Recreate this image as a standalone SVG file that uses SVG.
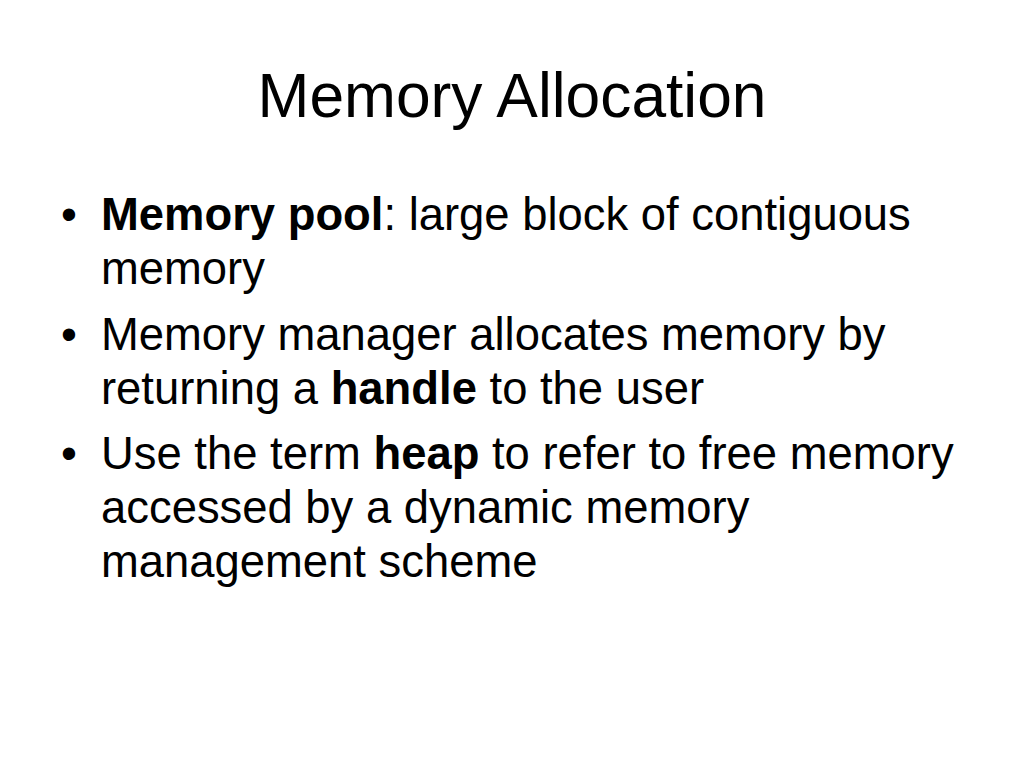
<svg xmlns="http://www.w3.org/2000/svg" width="1024" height="768" viewBox="0 0 1024 768">
<style>
text{font-family:"Liberation Sans",Arial,sans-serif;fill:#000}
.t{font-size:62.3px}
.b{font-size:45.4px}
.k{font-weight:bold}
</style>
<rect width="1024" height="768" fill="#fff"/>
<text class="t" x="512" y="117" text-anchor="middle">Memory Allocation</text>
<g id="bullet1">
<text class="b" x="61" y="230">•</text>
<text class="b" x="101" y="230"><tspan class="k">Memory pool</tspan>: large block of contiguous</text>
<text class="b" x="101" y="284">memory</text>
</g>
<g id="bullet2">
<text class="b" x="61" y="350">•</text>
<text class="b" x="101" y="350">Memory manager allocates memory by</text>
<text class="b" x="101" y="404">returning a <tspan class="k">handle</tspan> to the user</text>
</g>
<g id="bullet3">
<text class="b" x="61" y="469">•</text>
<text class="b" x="101" y="469">Use the term <tspan class="k">heap</tspan> to refer to free memory</text>
<text class="b" x="101" y="523">accessed by a dynamic memory</text>
<text class="b" x="101" y="577">management scheme</text>
</g>
</svg>
